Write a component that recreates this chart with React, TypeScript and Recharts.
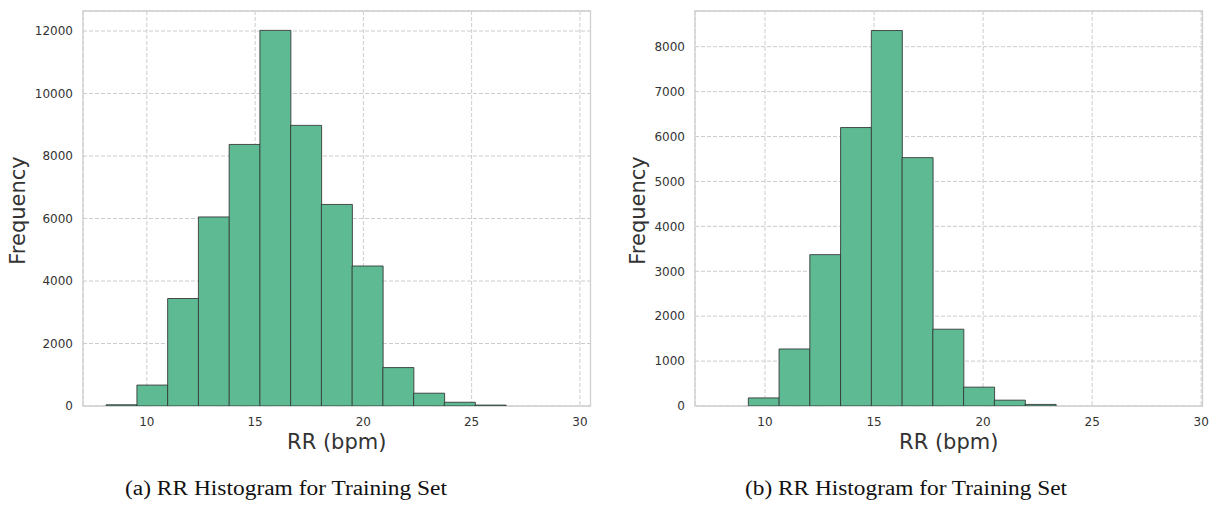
import {
  ComposedChart,
  Bar,
  XAxis,
  YAxis,
  CartesianGrid,
  ReferenceArea,
} from 'recharts';

// bin centers (bpm) and counts
const leftCenters = [8.83, 10.25, 11.67, 13.09, 14.51, 15.93, 17.35, 18.77, 20.19, 21.61, 23.03, 24.45, 25.87];
const leftCounts = [40, 670, 3440, 6050, 8370, 12020, 8980, 6450, 4480, 1230, 410, 120, 30];

const rightCenters = [9.94, 11.35, 12.76, 14.17, 15.58, 16.99, 18.4, 19.81, 21.22, 22.63];
const rightCounts = [180, 1270, 3370, 6200, 8360, 5530, 1710, 420, 130, 35];

const xTicks = [10, 15, 20, 25, 30];
const leftYTicks = [0, 2000, 4000, 6000, 8000, 10000, 12000];
const rightYTicks = [0, 1000, 2000, 3000, 4000, 5000, 6000, 7000, 8000];

const leftXDomain: [number, number] = [7.05, 30.49];
const leftYDomain: [number, number] = [0, 12640];
const rightXDomain: [number, number] = [6.79, 30.06];
const rightYDomain: [number, number] = [0, 8795];

const captions = ['(a) RR Histogram for Training Set', '(b) RR Histogram for Training Set'];

const BAR_FILL = '#5dba93';
const GRID = '#cccccc';
const TICK = { fill: '#333333', fontSize: 12, fontFamily: 'DejaVu Sans' };

interface HistProps {
  centers: number[];
  counts: number[];
  xDomain: [number, number];
  yDomain: [number, number];
  yTicks: number[];
  labelShift: number;
}

function frequencyLabel(shift: number) {
  return function FrequencyLabel(props: any) {
    const vb = props.viewBox || { x: 23, y: 11, width: 60, height: 395 };
    const x = vb.x + shift;
    const y = vb.y + vb.height / 2 + 2;
    return (
      <text
        x={x}
        y={y}
        transform={`rotate(-90 ${x} ${y})`}
        textAnchor="middle"
        fill="#333333"
        fontSize={21}
        fontFamily="DejaVu Sans"
      >
        Frequency
      </text>
    );
  };
}

function Histogram({ centers, counts, xDomain, yDomain, yTicks, labelShift }: HistProps) {
  const data = centers.map((c, i) => ({ x: c, count: counts[i] }));
  const YLabel = frequencyLabel(labelShift);

  return (
    <ComposedChart
      width={600}
      height={460}
      data={data}
      margin={{ top: 11, right: 9.5, left: 23, bottom: 0 }}
      barCategoryGap={0}
      barGap={0}
    >
      <CartesianGrid stroke={GRID} strokeDasharray="4 2" />
      <XAxis
        type="number"
        dataKey="x"
        domain={xDomain}
        ticks={xTicks}
        allowDataOverflow
        height={54}
        tickSize={0}
        tickMargin={11}
        axisLine={false}
        tick={TICK}
        label={{
          value: 'RR (bpm)',
          position: 'insideBottom',
          offset: 11,
          style: { fill: '#333333', fontSize: 21, fontFamily: 'DejaVu Sans' },
        }}
      />
      <YAxis
        type="number"
        domain={yDomain}
        ticks={yTicks}
        allowDataOverflow
        width={60}
        tickSize={0}
        tickMargin={10}
        axisLine={false}
        tick={TICK}
        label={<YLabel />}
      />
      <Bar
        dataKey="count"
        fill={BAR_FILL}
        stroke="#333333"
        strokeOpacity={0.85}
        strokeWidth={1}
        isAnimationActive={false}
      />
      <ReferenceArea
        x1={xDomain[0]}
        x2={xDomain[1]}
        y1={yDomain[0]}
        y2={yDomain[1]}
        fill="none"
        stroke="#d0d0d0"
        strokeWidth={1.3}
        ifOverflow="visible"
      />
    </ComposedChart>
  );
}

export default function App() {
  return (
    <div
      style={{
        position: 'absolute',
        left: 0,
        top: 0,
        width: 1214,
        height: 505,
        background: '#ffffff',
      }}
    >
      <div style={{ position: 'absolute', left: 0, top: 0 }}>
        <Histogram
          centers={leftCenters}
          counts={leftCounts}
          xDomain={leftXDomain}
          yDomain={leftYDomain}
          yTicks={leftYTicks}
          labelShift={2}
        />
      </div>
      <div style={{ position: 'absolute', left: 612, top: 0 }}>
        <Histogram
          centers={rightCenters}
          counts={rightCounts}
          xDomain={rightXDomain}
          yDomain={rightYDomain}
          yTicks={rightYTicks}
          labelShift={10}
        />
      </div>
      <svg
        width={1214}
        height={505}
        style={{ position: 'absolute', left: 0, top: 0, pointerEvents: 'none' }}
      >
        <text
          x={286}
          y={495}
          textAnchor="middle"
          fontFamily="Liberation Serif"
          fontSize={20}
          textLength={322}
          lengthAdjust="spacingAndGlyphs"
          fill="#111111"
        >
          {captions[0]}
        </text>
        <text
          x={906}
          y={495}
          textAnchor="middle"
          fontFamily="Liberation Serif"
          fontSize={20}
          textLength={322}
          lengthAdjust="spacingAndGlyphs"
          fill="#111111"
        >
          {captions[1]}
        </text>
      </svg>
    </div>
  );
}
